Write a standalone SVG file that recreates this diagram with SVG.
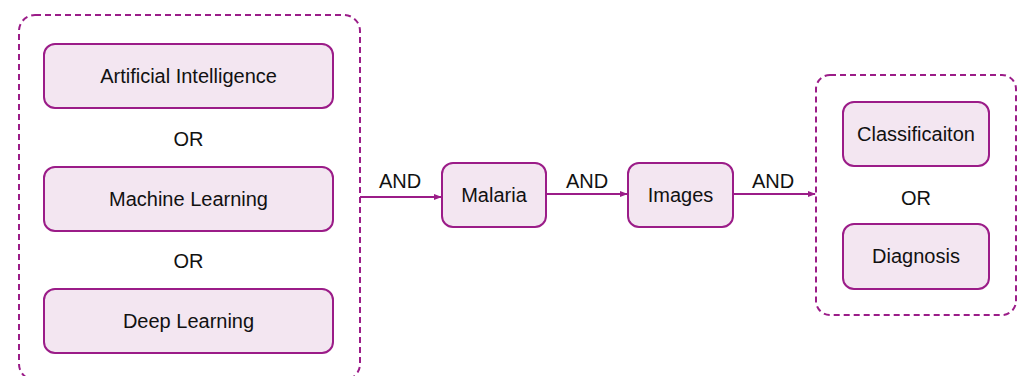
<svg xmlns="http://www.w3.org/2000/svg" width="1017" height="376" viewBox="0 0 1017 376">
<style>
.grp{fill:none;stroke:#9b1c88;stroke-width:2;stroke-dasharray:6 4}
.box{fill:#f3e6f1;stroke:#9b1c88;stroke-width:2}
.t{font-family:"Liberation Sans",Arial,sans-serif;font-size:20px;fill:#111;text-anchor:middle;dominant-baseline:central}
.e{stroke:#9b1c88;stroke-width:2;fill:none;marker-end:url(#ah)}
</style>
<defs>
<marker id="ah" viewBox="0 0 10 10" refX="9" refY="5" markerWidth="8" markerHeight="8" markerUnits="userSpaceOnUse" orient="auto">
<path d="M0,1 L10,5 L0,9 Z" fill="#9b1c88"/>
</marker>
</defs>
<g id="group-left">
<rect class="grp" x="19" y="15" width="341" height="365" rx="16"/>
</g>
<g id="group-right">
<rect class="grp" x="816" y="75" width="200" height="240" rx="14"/>
</g>
<g id="ai"><rect class="box" x="44" y="44" width="289" height="64" rx="11"/><text class="t" x="188.5" y="76">Artificial Intelligence</text></g>
<g id="or1"><text class="t" x="188.5" y="139">OR</text></g>
<g id="ml"><rect class="box" x="44" y="167" width="289" height="64" rx="11"/><text class="t" x="188.5" y="199">Machine Learning</text></g>
<g id="or2"><text class="t" x="188.5" y="261">OR</text></g>
<g id="dl"><rect class="box" x="44" y="289" width="289" height="64" rx="11"/><text class="t" x="188.5" y="321">Deep Learning</text></g>
<g id="malaria"><rect class="box" x="442" y="163" width="104" height="64" rx="11"/><text class="t" x="494" y="195">Malaria</text></g>
<g id="images"><rect class="box" x="628" y="163" width="105" height="64" rx="11"/><text class="t" x="680.5" y="195">Images</text></g>
<g id="cls"><rect class="box" x="843" y="102" width="146" height="64" rx="11"/><text class="t" x="916" y="134">Classificaiton</text></g>
<g id="or3"><text class="t" x="916" y="198">OR</text></g>
<g id="diag"><rect class="box" x="843" y="224" width="146" height="65" rx="11"/><text class="t" x="916" y="256">Diagnosis</text></g>
<g id="connectors">
<path class="e" d="M360,197 L441,197"/>
<path class="e" d="M546,194 L627,194"/>
<path class="e" d="M733,194 L815,194"/>
<text class="t" x="400" y="181">AND</text>
<text class="t" x="587" y="181">AND</text>
<text class="t" x="773" y="181">AND</text>
</g>
</svg>
